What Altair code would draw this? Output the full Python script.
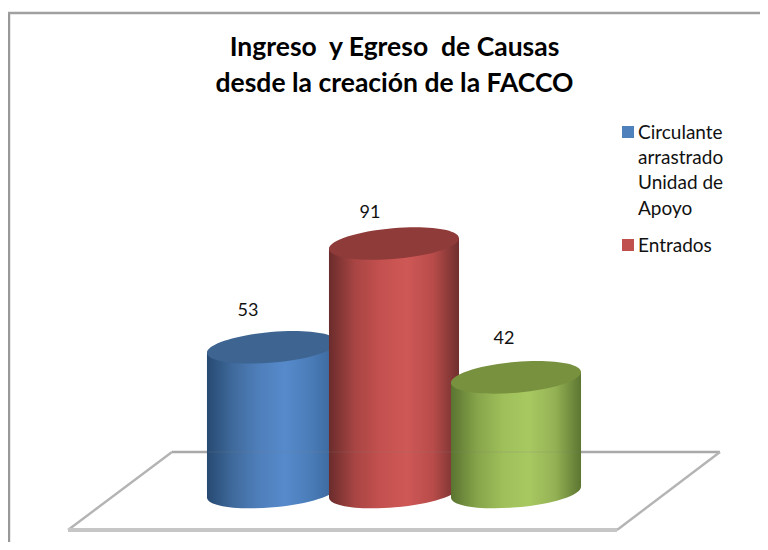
import altair as alt
import pandas as pd

CATEGORIES = ["Circulante arrastrado Unidad de Apoyo", "Entrados", "Salidos"]
VALUES = [53, 91, 42]
POSITIONS = [0, 1, 2]
LABEL_DX = [-24, -24, -12]
LABEL_DY = [-36, -31, -38]
CAP_COLORS = ["#3e6591", "#8f3b39", "#78913f"]
STOPS = [
    ["#274a72", "#3f6a9c", "#4f7fbb", "#568acb", "#4a7cb8", "#3a6597"],
    ["#6a2c2b", "#a84543", "#c4514f", "#ce5856", "#b84c4a", "#6f2f2e"],
    ["#5a7430", "#86a44a", "#9fbf5a", "#a8c862", "#94b254", "#5c7631"],
]
TITLE_LINES = ["Ingreso\u00a0 y Egreso\u00a0 de Causas", "desde la creación de la FACCO"]
LEGEND_TEXT = [["Circulante", "arrastrado", "Unidad de", "Apoyo"], ["Entrados"]]
LEGEND_COLORS = ["#4f81bd", "#c0504d"]

FONT = "Lato"
W, H = 752, 534
XS = alt.Scale(domain=[-2.1639, 4.0], nice=False, zero=False)
YS = alt.Scale(domain=[-18.315, 177.29], nice=False, zero=False)
HALF = 0.533
TILT = 2.0
ELLIPSE = "M -1 0.087 A 1 0.235 -5 1 1 1 -0.087 A 1 0.235 -5 1 1 -1 0.087 Z"
X = lambda f: alt.X(f, scale=XS, axis=None)
Y = lambda f: alt.Y(f, scale=YS, axis=None)
one = alt.Chart(pd.DataFrame({"a": [0]}))


def grad(stops):
    n = len(stops) - 1
    return alt.Gradient(
        gradient="linear", x1=0, x2=1, y1=0, y2=0,
        stops=[alt.GradientStop(color=c, offset=i / n) for i, c in enumerate(stops)],
    )


def floor(path, color, width, opacity=1):
    d = pd.DataFrame({"x": [POSITIONS[1]], "y": [0]})
    return alt.Chart(d).mark_point(
        shape=path, size=4, filled=False, stroke=color, strokeWidth=width, opacity=opacity
    ).encode(x=X("x:Q"), y=Y("y:Q"))


layers = [
    floor("M -222 -40 L 326 -40", "#a9a9a9", 2.6),
    floor("M -326 38 L -222 -40", "#b4b4b4", 2.4),
    floor("M 223 38 L 326 -40", "#b4b4b4", 2.4),
    floor("M -326 38 L 223 38", "#c6c6c6", 4),
]

for cat, v, p, cap, st in zip(CATEGORIES, VALUES, POSITIONS, CAP_COLORS, STOPS):
    g = grad(st)
    side = pd.DataFrame({
        "x": [p - HALF, p + HALF],
        "top": [v - TILT, v + TILT],
        "base": [-TILT, TILT],
    })
    pt = pd.DataFrame({"x": [p], "base": [0], "top": [v], "cat": [cat], "v": [v]})
    layers += [
        alt.Chart(pt).mark_point(shape=ELLIPSE, size=16900, filled=True, fill=g, strokeWidth=0, opacity=1)
        .encode(x=X("x:Q"), y=Y("base:Q")),
        alt.Chart(side).mark_area(fill=g, line=False, opacity=1)
        .encode(x=X("x:Q"), y=Y("top:Q"), y2="base:Q"),
        alt.Chart(pt).mark_point(shape=ELLIPSE, size=16900, filled=True, fill=cap, strokeWidth=0, opacity=1)
        .encode(x=X("x:Q"), y=Y("top:Q")),
    ]

# back edge of the floor showing faintly through the cylinders
layers.append(floor("M -186 -40 L 188 -40", "#808080", 1.5, 0.14))

for v, p, dx, dy in zip(VALUES, POSITIONS, LABEL_DX, LABEL_DY):
    d = pd.DataFrame({"x": [p], "top": [v], "v": [v]})
    layers.append(
        alt.Chart(d).mark_text(font=FONT, fontSize=18, color="#111111", dx=dx, dy=dy)
        .encode(x=X("x:Q"), y=Y("top:Q"), text="v:Q")
    )

# frame
layers += [
    one.mark_rule(color="#989898", strokeWidth=2.4).encode(x=alt.value(1), y=alt.value(5), y2=alt.value(H)),
    one.mark_rule(color="#a0a0a0", strokeWidth=2.4).encode(x=alt.value(0), x2=alt.value(W), y=alt.value(5)),
]

# title
layers.append(
    one.mark_text(text=TITLE_LINES, font=FONT, fontSize=26.5, fontWeight="bold", color="#000000",
                  lineHeight=36, align="center", baseline="top")
    .encode(x=alt.value(386.5), y=alt.value(26.5))
)

# legend
y0 = [124, 237]
for lines, col, yy in zip(LEGEND_TEXT, LEGEND_COLORS, y0):
    layers.append(one.mark_square(size=144, color=col, opacity=1).encode(x=alt.value(620), y=alt.value(yy)))
    layers.append(
        one.mark_text(text=lines, font=FONT, fontSize=19, color="#111111", lineHeight=25.2, align="left", baseline="middle")
        .encode(x=alt.value(630), y=alt.value(yy + 1))
    )

chart = alt.layer(*layers).properties(
    width=W, height=H, padding=0, background="white", autosize=alt.AutoSizeParams(type="none"),
).configure_view(stroke=None)

chart.save("out.html", embed_options={"renderer": "svg", "actions": False})
